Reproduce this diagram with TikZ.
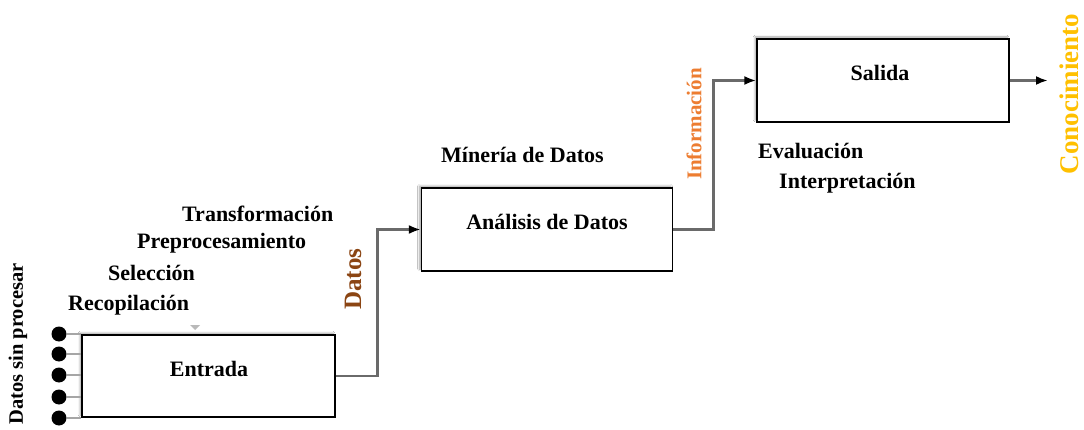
\documentclass[tikz,border=0pt]{standalone}
\usepackage{fontspec}
\setmainfont{Liberation Serif}
\usetikzlibrary{arrows.meta,shadows.blur}
\definecolor{datosbrown}{HTML}{8B4513}
\definecolor{infoorange}{HTML}{ED7D31}
\definecolor{knowgold}{HTML}{FFC000}
\definecolor{linegray}{HTML}{6A6A6A}
\tikzset{
  stagebox/.style={draw=black, line width=1.3pt, fill=white, inner sep=0pt,
    blur shadow={shadow xshift=-2pt, shadow yshift=2pt, shadow blur steps=6, shadow opacity=35}},
  lbl/.style={font=\fontsize{22}{26}\selectfont\bfseries, inner sep=0pt},
  conn/.style={draw=linegray, line width=2.8pt, -{Latex[length=12pt,width=9pt,color=black]}},
  dot/.style={circle, fill=black, minimum size=15pt, inner sep=0pt},
  feed/.style={draw=gray!70, line width=1.8pt},
}
\begin{document}
\begin{tikzpicture}[x=1pt,y=-1pt]
\useasboundingbox (0,0) rectangle (1084,430);
\fill[white] (0,0) rectangle (1084,430);

% boxes
\node[stagebox, minimum width=253pt, minimum height=82pt] (entrada) at (208.5,376) {};
\node[stagebox, minimum width=251pt, minimum height=83pt] (analisis) at (547,229.5) {};
\node[stagebox, minimum width=252pt, minimum height=83pt] (salida) at (883,80.5) {};

% box titles
\node[lbl] (entradaT) at (209,369) {Entrada};
\node[lbl] (analisisT) at (547,222) {Análisis de Datos};
\node[lbl] (salidaT) at (880,73) {Salida};

% input dots
\foreach \i/\yy in {1/334,2/354,3/375,4/397,5/418}{
  \node[dot] (d\i) at (59,\yy) {};
  \draw[feed] (d\i.east) -- (d\i.east -| entrada.west);
}

% connectors
\draw[conn] (entrada.east) -- ++(42,0) |- (analisis.west);
\draw[conn] (analisis.east) -- ++(40,0) |- (salida.west);
\coordinate (knowEnd) at (1048,80.5);
\draw[conn] (salida.east) -- (knowEnd);

% small gray mark
\fill[gray!55] (190,325) -- (200,325) -- (195,330) -- cycle;

% step labels
\node[lbl, anchor=west] (transf) at (182,214) {Transformación};
\node[lbl, anchor=west] (prepro) at (137,243) {Preprocesamiento};
\node[lbl, anchor=west] (selec) at (108,273) {Selección};
\node[lbl, anchor=west] (recop) at (68,305) {Recopilación};
\node[lbl, anchor=west] (mineria) at (441,155) {Mínería de Datos};
\node[lbl, anchor=west] (evalu) at (758,151) {Evaluación};
\node[lbl, anchor=west] (interp) at (779,183) {Interpretación};

% rotated labels
\node[lbl, rotate=90, font=\fontsize{20.5}{24}\selectfont\bfseries] (sinproc) at (18,344) {Datos sin procesar};
\node[lbl, rotate=90, text=datosbrown, font=\fontsize{25}{28}\selectfont\bfseries] (datos) at (353,279) {Datos};
\node[lbl, rotate=90, text=infoorange, font=\fontsize{21}{24}\selectfont\bfseries] (info) at (694,124) {Información};
\node[lbl, rotate=90, text=knowgold, font=\fontsize{27}{30}\selectfont\bfseries] (conoc) at (1069,94) {Conocimiento};
\end{tikzpicture}
\end{document}
